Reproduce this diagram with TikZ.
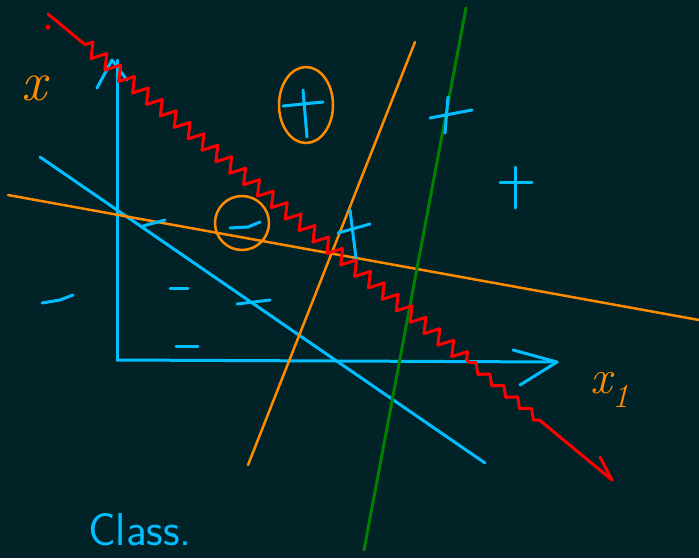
\documentclass[tikz,border=0pt]{standalone}
\usetikzlibrary{decorations.pathmorphing}
\definecolor{board}{RGB}{1,34,38}
\definecolor{chalkblue}{RGB}{0,190,255}
\definecolor{chalkorange}{RGB}{255,140,0}
\definecolor{chalkgreen}{RGB}{0,128,0}
\definecolor{chalkred}{RGB}{255,0,0}
\tikzset{
  stroke/.style={line width=3pt,line cap=round,line join=round},
  sign/.style={stroke,chalkblue},
  ring/.style={stroke,chalkorange,line width=2.5pt},
  wiggle/.style={decorate,decoration={zigzag,segment length=18pt,amplitude=#1}},
}
\begin{document}
\begin{tikzpicture}[x=1pt,y=-1pt]
  \fill[board] (0,0) rectangle (699,558);
  \useasboundingbox (0,0) rectangle (699,558);

  % axes
  \coordinate (o) at (117,360);
  \coordinate (ytip) at (117,60);
  \coordinate (xtip) at (557,362);
  \draw[sign] (o) -- (ytip);
  \draw[sign] (97,88) -- (112,60) -- (127,80);
  \draw[sign] (o) -- (xtip);
  \draw[sign] (513,350) -- (xtip) -- (520,385);
  \node[chalkorange,font=\fontsize{56}{56}\selectfont\itshape] (xlab) at (34,88) {x};
  \node[chalkorange,font=\fontsize{48}{48}\selectfont\itshape] (x1lab) at (610,390) {x\textsubscript{1}};

  % separating lines
  \draw[stroke,chalkblue] (40,157) -- (485,463);
  \draw[stroke,chalkorange,line width=2.5pt] (8,195) -- (699,320);
  \draw[stroke,chalkorange,line width=2.5pt] (248,465) -- (415,42);
  \draw[stroke,chalkgreen] (364,550) -- (466,8);

  % red boundary
  \draw[stroke,chalkred] (48,14) -- (85,44.6);
  \draw[stroke,chalkred,wiggle=7pt] (85,44.6) -- (470,362.7);
  \draw[stroke,chalkred,wiggle=4pt] (470,362.7) -- (545,424.6);
  \draw[stroke,chalkred] (545,424.6) -- (612,480);
  \draw[stroke,chalkred] (600,457) -- (612,480);
  \fill[chalkred] (48,27) circle (2.5);

  % minus signs
  \draw[sign] (42,303) -- (60,300) -- (73,295);
  \draw[sign] (170,288) -- (188,288);
  \draw[sign] (237,304) -- (270,300);
  \draw[sign] (176,346) -- (198,346);
  \draw[sign] (143,226) -- (165,220);
  \draw[sign] (230,228) -- (248,227) -- (260,222);

  % plus signs
  \draw[sign] (283,106) -- (323,102);
  \draw[sign] (303,90) -- (307,137);
  \draw[sign] (430,118) -- (472,110);
  \draw[sign] (448,97) -- (445,133);
  \draw[sign] (500,182) -- (532,182);
  \draw[sign] (515,167) -- (515,208);
  \draw[sign] (338,233) -- (370,224);
  \draw[sign] (350,210) -- (356,258);

  % circled points
  \draw[ring] (242,223) circle (27);
  \draw[ring] (306,105) ellipse (27 and 38);

  \node[chalkblue,font=\fontsize{46}{46}\selectfont\sffamily,inner sep=1pt] (title) at (140,530) {Class.};
\end{tikzpicture}
\end{document}
